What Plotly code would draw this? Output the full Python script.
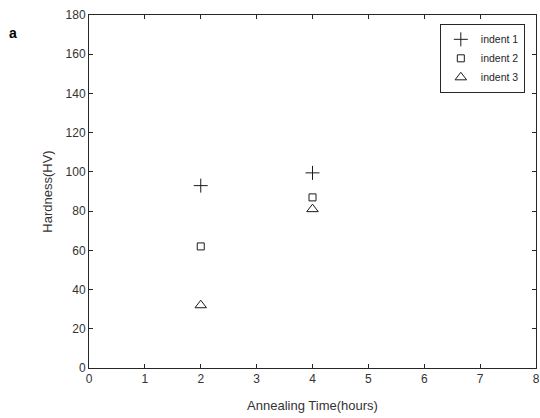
import plotly.graph_objects as go

# Annealing time (hours) and Vickers hardness for three indents
anneal_hours = [2, 4]
indent1_hv = [93, 99.5]
indent2_hv = [62, 87]
indent3_hv = [32, 81]

series = [
    ("indent 1", indent1_hv, "cross-thin", 10),
    ("indent 2", indent2_hv, "square-open", 7),
    ("indent 3", indent3_hv, "triangle-up-open", 10),
]

fig = go.Figure()
for name, vals, sym, sz in series:
    fig.add_trace(go.Scatter(
        x=anneal_hours, y=vals, mode="markers", name=name,
        marker=dict(symbol=sym, size=sz, color="#1a1a1a",
                    line=dict(color="#1a1a1a", width=1)),
    ))

axis_common = dict(
    showgrid=False, zeroline=False, showline=True, linecolor="#262626",
    linewidth=1, mirror="allticks", ticks="inside", ticklen=4,
    tickcolor="#262626", tickfont=dict(size=12, color="#333333"),
    automargin=False, ticklabeloverflow="allow",
)

fig.update_layout(
    width=540, height=418,
    margin=dict(l=89, r=4, t=15, b=50),
    paper_bgcolor="white", plot_bgcolor="white",
    font=dict(family="Liberation Sans, Arial, sans-serif", color="#262626"),
    showlegend=True,
    legend=dict(
        x=0.975, y=0.975, xanchor="right", yanchor="top",
        bordercolor="#262626", borderwidth=1, bgcolor="white",
        font=dict(size=10.5, color="#262626"),
        itemwidth=30, tracegroupgap=0,
    ),
    xaxis=dict(range=[0, 8], dtick=1,
               title=dict(text="Annealing Time(hours)", font=dict(size=13, color="#333333"), standoff=15),
               **axis_common),
    yaxis=dict(range=[0, 180], dtick=20,
               title=dict(text="Hardness(HV)", font=dict(size=13, color="#333333"), standoff=10),
               **axis_common),
)

fig.add_annotation(text="<b>a</b>", xref="paper", yref="paper",
                   x=-0.17, y=0.95, xanchor="center", yanchor="middle",
                   showarrow=False, font=dict(size=14, color="black"))

fig.write_html("out.html")
